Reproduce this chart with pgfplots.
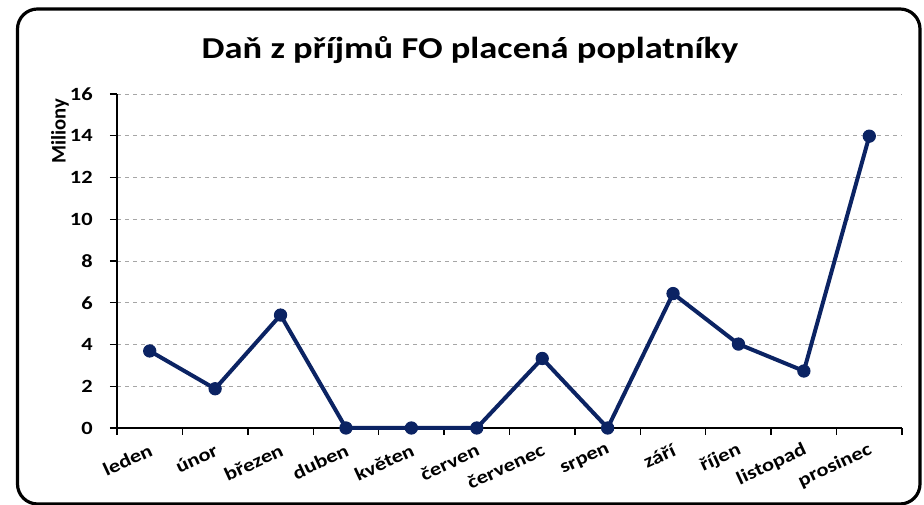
\documentclass[border=0pt]{standalone}
\usepackage{fontspec}
\setmainfont{Carlito}[FakeStretch=1.2]
\newfontfamily\plainfont{Carlito}
\usepackage{pgfplots}
\pgfplotsset{compat=1.18}
\definecolor{navy}{HTML}{0B2363}
\begin{document}
\begin{tikzpicture}[x=0.75pt,y=0.75pt]
\useasboundingbox (0,0) rectangle (924,505);
\draw[line width=2.4pt, rounded corners=15pt] (17.5,1) rectangle (920,496);
\node[font=\bfseries\fontsize{22.8}{26}\selectfont] at (470,455) {Daň z příjmů FO placená poplatníky};
\begin{axis}[
  at={(87.75pt,57.75pt)}, anchor=south west,
  scale only axis, width=588.75pt, height=250.5pt,
  xmin=0, xmax=12, ymin=0, ymax=16,
  axis x line*=bottom, axis y line*=left,
  axis line style={line width=1.5pt, -},
  xtick={0.5,1.5,...,11.5},
  xticklabels={leden,únor,březen,duben,květen,červen,červenec,srpen,září,říjen,listopad,prosinec},
  major x tick style={draw=none},
  minor xtick={0,1,...,12},
  ytick={0,2,...,16},
  tick align=outside,
  major tick length=5.25pt, minor tick length=5.25pt,
  every tick/.style={black, line width=1.1pt},
  ymajorgrids,
  major grid style={dashed, gray!70, line width=0.6pt},
  /pgf/number format/assume math mode=true,
  ticklabel style={font=\bfseries\fontsize{14}{16}\selectfont},
  yticklabel style={anchor=east, xshift=-9.5pt},
  xticklabel style={rotate=25, anchor=east, yshift=-10pt, xshift=0pt},
  ylabel={Miliony},
  ylabel style={font=\plainfont\bfseries\fontsize{15.5}{17}\selectfont, at={(axis description cs:-0.0726,0.889)}, anchor=center},
  clip=false,
]
\addplot[color=navy, line width=3pt, mark=*, mark size=4.6pt, mark options={solid, fill=navy, line width=0.75pt}]
coordinates {(0.5,3.69) (1.5,1.88) (2.5,5.41) (3.5,0) (4.5,0) (5.5,0) (6.5,3.33) (7.5,0) (8.5,6.44) (9.5,4.02) (10.5,2.73) (11.5,13.98)};
\end{axis}
\end{tikzpicture}
\end{document}
